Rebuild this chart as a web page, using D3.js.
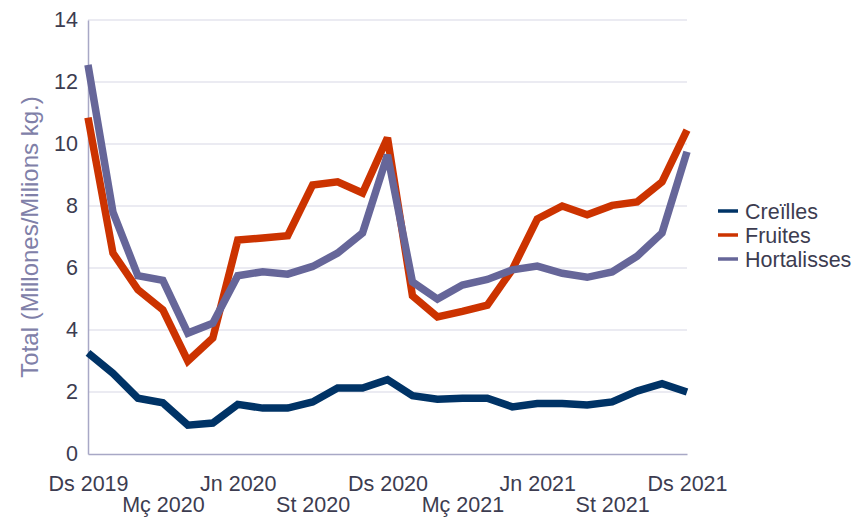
<!DOCTYPE html>
<html>
<head>
<meta charset="utf-8">
<script src="https://cdn.jsdelivr.net/npm/d3@7"></script>
<style>
  body { margin: 0; background: #fff; }
  svg { display: block; font-family: "Liberation Sans", Arial, sans-serif; }
</style>
</head>
<body>
<svg id="chart" width="855" height="518"></svg>
<script>
// month labels, Dec 2019 .. Dec 2021
const months = [
  "Ds 2019", "Gn 2020", "Fb 2020", "Mç 2020", "Ab 2020", "Mg 2020", "Jn 2020",
  "Jl 2020", "Ag 2020", "St 2020", "Oc 2020", "Nv 2020", "Ds 2020",
  "Gn 2021", "Fb 2021", "Mç 2021", "Ab 2021", "Mg 2021", "Jn 2021",
  "Jl 2021", "Ag 2021", "St 2021", "Oc 2021", "Nv 2021", "Ds 2021"
];
const tickMonths = ["Ds 2019", "Mç 2020", "Jn 2020", "St 2020", "Ds 2020", "Mç 2021", "Jn 2021", "St 2021", "Ds 2021"];
const yTicks = [0, 2, 4, 6, 8, 10, 12, 14];

const seriesNames = ["Creïlles", "Fruites", "Hortalisses"];
const colors = ["#003366", "#cc3300", "#666699"];

const creilles = [3.26, 2.6, 1.8, 1.65, 0.93, 1.0, 1.6, 1.48, 1.48, 1.68, 2.13, 2.13, 2.4,
  1.88, 1.77, 1.8, 1.8, 1.52, 1.63, 1.63, 1.58, 1.68, 2.03, 2.27, 2.0];
const fruites = [10.85, 6.48, 5.3, 4.65, 3.0, 3.74, 6.9, 6.97, 7.04, 8.68, 8.78, 8.42, 10.2,
  5.1, 4.42, 4.6, 4.8, 5.95, 7.58, 8.0, 7.72, 8.02, 8.13, 8.78, 10.45];
const hortalisses = [12.55, 7.8, 5.75, 5.6, 3.9, 4.22, 5.75, 5.88, 5.8, 6.05, 6.48, 7.13, 9.65,
  5.55, 5.0, 5.45, 5.63, 5.94, 6.06, 5.83, 5.7, 5.87, 6.38, 7.13, 9.75];
const values = [creilles, fruites, hortalisses];

const svg = d3.select("#chart");
const margin = { left: 88, right: 168, top: 20, bottom: 64 };
const width = 855, height = 518;

const x = d3.scalePoint().domain(months).range([margin.left, width - margin.right]);
const y = d3.scaleLinear().domain([0, 14]).range([height - margin.bottom, margin.top]);

// gridlines
svg.append("g")
  .selectAll("line")
  .data(yTicks.filter(d => d > 0))
  .join("line")
  .attr("x1", margin.left)
  .attr("x2", width - margin.right)
  .attr("y1", d => y(d))
  .attr("y2", d => y(d))
  .attr("stroke", "#e4e4ee")
  .attr("stroke-width", 1.5);

// y axis
const yAxis = svg.append("g")
  .attr("transform", "translate(" + margin.left + ",0)")
  .call(d3.axisLeft(y).tickValues(yTicks).tickSize(0).tickPadding(10));
yAxis.select(".domain").attr("stroke", "#a8a8c6").attr("stroke-width", 1.5);
yAxis.selectAll("text").style("font-size", "21.5px").attr("fill", "#3c3c50");

// x axis, labels staggered on two rows
const xAxis = svg.append("g")
  .attr("transform", "translate(0," + y(0) + ")")
  .call(d3.axisBottom(x).tickValues(tickMonths).tickSize(0));
xAxis.select(".domain").attr("stroke", "#a8a8c6").attr("stroke-width", 1.5);
xAxis.selectAll("text")
  .style("font-size", "21.5px")
  .attr("fill", "#3c3c50")
  .attr("dy", 0)
  .attr("y", (d, i) => i % 2 == 0 ? 37 : 58);

// y label
svg.append("text")
  .attr("transform", "translate(38," + ((margin.top + y(0)) / 2) + ") rotate(-90)")
  .attr("text-anchor", "middle")
  .style("font-size", "24px")
  .attr("fill", "#8080a8")
  .text("Total (Millones/Milions kg.)");

// lines
const line = d3.line()
  .x((d, i) => x(months[i]))
  .y(d => y(d));

svg.append("g")
  .selectAll("path")
  .data(values)
  .join("path")
  .attr("d", line)
  .attr("fill", "none")
  .attr("stroke", (d, i) => colors[i])
  .attr("stroke-width", 7.5)
  .attr("stroke-linejoin", "miter")
  .attr("stroke-miterlimit", 3);

// legend
const legend = svg.append("g")
  .selectAll("g")
  .data(seriesNames)
  .join("g")
  .attr("transform", (d, i) => "translate(718," + (211 + i * 24) + ")");

legend.append("line")
  .attr("x1", 0)
  .attr("x2", 20)
  .attr("stroke", (d, i) => colors[i])
  .attr("stroke-width", 3.5);

legend.append("text")
  .attr("x", 27)
  .attr("dy", "0.35em")
  .style("font-size", "21.5px")
  .attr("fill", "#3c3c50")
  .text(d => d);
</script>
</body>
</html>
